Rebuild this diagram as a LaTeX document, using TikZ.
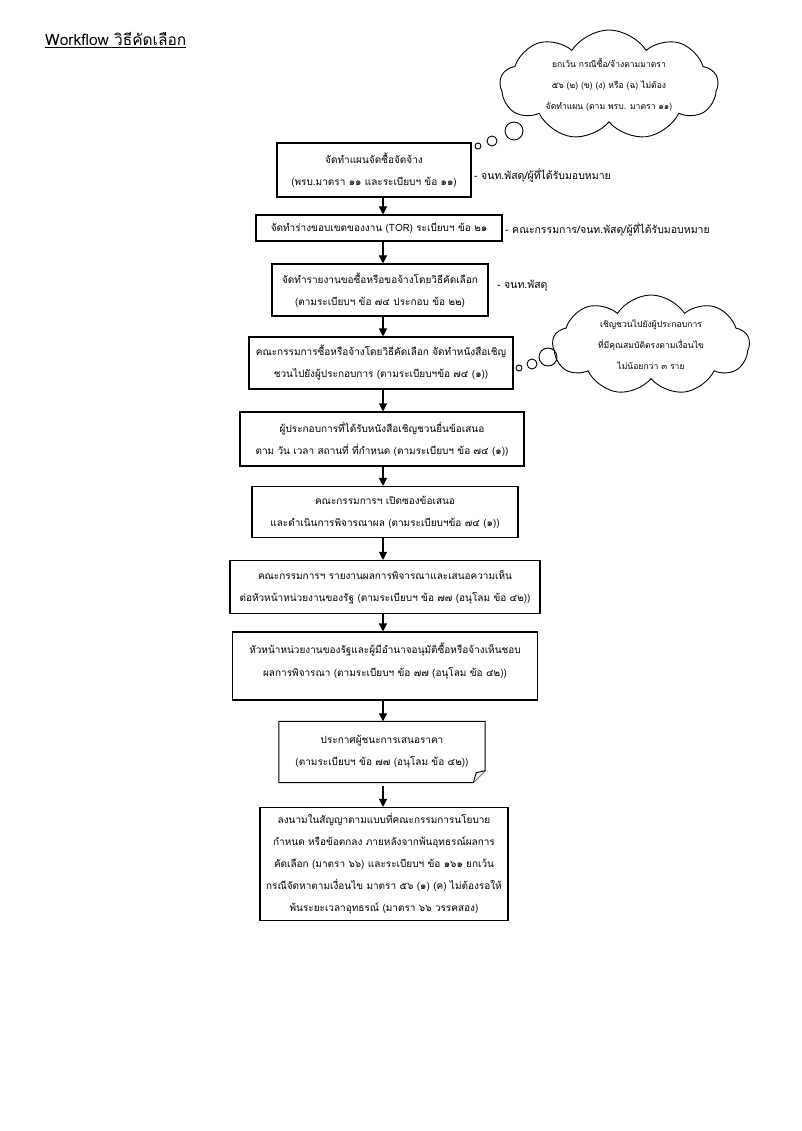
\documentclass[tikz,border=0pt]{standalone}
\usepackage{fontspec}
\setmainfont[Script=Thai]{Loma}
\usetikzlibrary{shapes.symbols,arrows.meta}
\begin{document}
\begin{tikzpicture}[x=1pt,y=-1pt,
  box/.style={draw,line width=1.05pt,align=center,inner sep=0pt,font=\fontsize{10}{22}\selectfont},
  lbl/.style={anchor=west,inner sep=0pt,font=\fontsize{10.5}{12}\selectfont},
  arr/.style={-{Triangle[length=8pt,width=8pt]},line width=1.05pt},
  bub/.style={draw,circle,line width=0.9pt,inner sep=0pt},
  thought/.style={cloud,draw,line width=0.9pt,cloud puffs=9,cloud puff arc=115,cloud ignores aspect,align=center,inner sep=0pt,font=\fontsize{8.6}{21}\selectfont}]
\useasboundingbox (0,0) rectangle (802,1131);
\fill[white] (0,0) rectangle (802,1131);

\node[anchor=base west,inner sep=0pt,font=\fontsize{15.5}{18}\selectfont] (title) at (45,46) {\underline{Workflow วิธีคัดเลือก}};

\coordinate (ax) at (383,0);

\node[box,minimum width=194pt,minimum height=54pt] (b1) at (374,170) {จัดทำแผนจัดซื้อจัดจ้าง\\(พรบ.มาตรา ๑๑ และระเบียบฯ ข้อ ๑๑)};
\node[lbl] (l1) at (474,175) {- จนท.พัสดุ/ผู้ที่ได้รับมอบหมาย};

\node[box,minimum width=246pt,minimum height=26pt] (b2) at (379,228) {จัดทำร่างขอบเขตของงาน (TOR) ระเบียบฯ ข้อ ๒๑};
\node[lbl] (l2) at (505,229) {- คณะกรรมการ/จนท.พัสดุ/ผู้ที่ได้รับมอบหมาย};

\node[box,minimum width=216pt,minimum height=52pt] (b3) at (380,290) {จัดทำรายงานขอซื้อหรือขอจ้างโดยวิธีคัดเลือก\\(ตามระเบียบฯ ข้อ ๗๔ ประกอบ ข้อ ๒๒)};
\node[lbl] (l3) at (497,286) {- จนท.พัสดุ};

\node[box,minimum width=264pt,minimum height=52pt] (b4) at (381,363) {คณะกรรมการซื้อหรือจ้างโดยวิธีคัดเลือก จัดทำหนังสือเชิญ\\ชวนไปยังผู้ประกอบการ (ตามระเบียบฯข้อ ๗๔ (๑))};

\node[box,minimum width=284pt,minimum height=54pt] (b5) at (382,439) {ผู้ประกอบการที่ได้รับหนังสือเชิญชวนยื่นข้อเสนอ\\ตาม วัน เวลา สถานที่ ที่กำหนด (ตามระเบียบฯ ข้อ ๗๔ (๑))};

\node[box,minimum width=266pt,minimum height=51pt] (b6) at (385,512) {คณะกรรมการฯ เปิดซองข้อเสนอ\\และดำเนินการพิจารณาผล (ตามระเบียบฯข้อ ๗๔ (๑))};

\node[box,minimum width=310pt,minimum height=53pt] (b7) at (385,587) {คณะกรรมการฯ รายงานผลการพิจารณาและเสนอความเห็น\\ต่อหัวหน้าหน่วยงานของรัฐ (ตามระเบียบฯ ข้อ ๗๗ (อนุโลม ข้อ ๔๒))};

\node[box,minimum width=305pt,minimum height=68pt] (b8) at (385,666) {};
\node[align=center,inner sep=0pt,font=\fontsize{10}{22}\selectfont] (b8t) at (385,661) {หัวหน้าหน่วยงานของรัฐและผู้มีอำนาจอนุมัติซื้อหรือจ้างเห็นชอบ\\ผลการพิจารณา (ตามระเบียบฯ ข้อ ๗๗ (อนุโลม ข้อ ๔๒))};

\node[align=center,inner sep=0pt,minimum width=206pt,minimum height=61pt,font=\fontsize{10}{22}\selectfont] (b9) at (382,752) {ประกาศผู้ชนะการเสนอราคา\\(ตามระเบียบฯ ข้อ ๗๗ (อนุโลม ข้อ ๔๒))};
\draw[line width=1.05pt] (b9.north west) -- (b9.north east) -- ([yshift=12pt]b9.south east) -- ([xshift=-12pt]b9.south east) -- (b9.south west) -- cycle;
\draw[line width=0.9pt,fill=gray!15] ([yshift=12pt]b9.south east) -- ([xshift=-9pt,yshift=10pt]b9.south east) -- ([xshift=-12pt]b9.south east);

\node[box,minimum width=248pt,minimum height=113pt] (b10) at (384,864) {ลงนามในสัญญาตามแบบที่คณะกรรมการนโยบาย\\กำหนด หรือข้อตกลง ภายหลังจากพ้นอุทธรณ์ผลการ\\คัดเลือก (มาตรา ๖๖) และระเบียบฯ ข้อ ๑๖๑ ยกเว้น\\กรณีจัดหาตามเงื่อนไข มาตรา ๕๖ (๑) (ค) ไม่ต้องรอให้\\พ้นระยะเวลาอุทธรณ์ (มาตรา ๖๖ วรรคสอง)};

\draw[arr] (b1.south -| ax) -- (b2.north -| ax);
\draw[arr] (b2.south -| ax) -- (b3.north -| ax);
\draw[arr] (b3.south -| ax) -- (b4.north -| ax);
\draw[arr] (b4.south -| ax) -- (b5.north -| ax);
\draw[arr] (b5.south -| ax) -- (b6.north -| ax);
\draw[arr] (b6.south -| ax) -- (b7.north -| ax);
\draw[arr] (b7.south -| ax) -- (b8.north -| ax);
\draw[arr] (b8.south -| ax) -- (b9.north -| ax);
\draw[arr] ([yshift=-3pt]b9.south -| ax) -- (b10.north -| ax);

\node[thought,minimum width=218pt,minimum height=110pt] (c1) at (609,85) {ยกเว้น กรณีซื้อ/จ้างตามมาตรา\\๕๖ (๒) (ข) (ง) หรือ (ฉ) ไม่ต้อง\\จัดทำแผน (ตาม พรบ. มาตรา ๑๑)};
\node[bub,minimum size=6pt] (c1a) at (478,146) {};
\node[bub,minimum size=10pt] (c1b) at (492,141) {};
\node[bub,minimum size=18pt] (c1c) at (514,131) {};

\node[thought,minimum width=197pt,minimum height=100pt] (c2) at (651,345) {เชิญชวนไปยังผู้ประกอบการ\\ที่มีคุณสมบัติตรงตามเงื่อนไข\\ไม่น้อยกว่า ๓ ราย};
\node[bub,minimum size=6pt] (c2a) at (519,368) {};
\node[bub,minimum size=10pt] (c2b) at (532,364) {};
\node[bub,minimum size=18pt] (c2c) at (548,357) {};
\end{tikzpicture}
\end{document}
